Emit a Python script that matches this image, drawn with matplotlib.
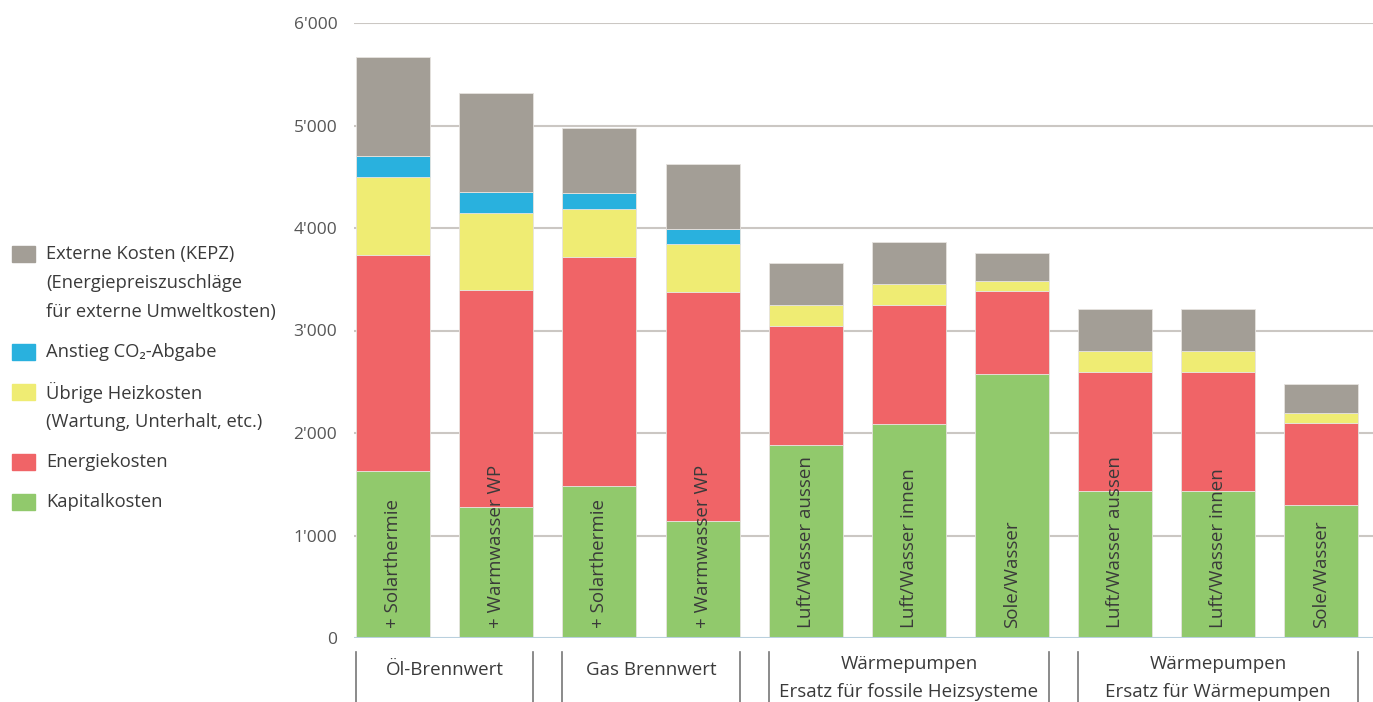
import matplotlib
matplotlib.use("Agg")
import matplotlib.pyplot as plt
from matplotlib.patches import Rectangle
from matplotlib.transforms import blended_transform_factory
import numpy as np

plt.rcParams['font.family'] = ['Open Sans', 'DejaVu Sans']

# ---- data ----
bar_labels = ["+ Solarthermie", "+ Warmwasser WP", "+ Solarthermie", "+ Warmwasser WP",
              "Luft/Wasser aussen", "Luft/Wasser innen", "Sole/Wasser",
              "Luft/Wasser aussen", "Luft/Wasser innen", "Sole/Wasser"]
kapital = [1630, 1280, 1480, 1140, 1880, 2090, 2580, 1430, 1430, 1300]
energie = [2110, 2120, 2240, 2240, 1160, 1160, 810, 1170, 1170, 800]
uebrige = [760, 750, 470, 460, 210, 200, 90, 200, 200, 100]
co2 = [200, 200, 150, 150, 0, 0, 0, 0, 0, 0]
extern = [970, 970, 635, 635, 410, 410, 280, 410, 410, 280]

groups = [["Öl-Brennwert"], ["Gas Brennwert"],
          ["Wärmepumpen", "Ersatz für fossile Heizsysteme"],
          ["Wärmepumpen", "Ersatz für Wärmepumpen"]]
group_ranges = [(0, 1), (2, 3), (4, 6), (7, 9)]

legend_lines = [
    ["Externe Kosten (KEPZ)", "(Energiepreiszuschläge", "für externe Umweltkosten)"],
    ["Anstieg CO₂-Abgabe"],
    ["Übrige Heizkosten", "(Wartung, Unterhalt, etc.)"],
    ["Energiekosten"],
    ["Kapitalkosten"],
]
colors = ["#91c96c", "#f06467", "#efec73", "#29b1de", "#a39e96"]
yticks = [0, 1000, 2000, 3000, 4000, 5000, 6000]
ytick_labels = ["0", "1'000", "2'000", "3'000", "4'000", "5'000", "6'000"]

# ---- figure ----
W, H = 1373, 702
fig = plt.figure(figsize=(W / 100, H / 100), dpi=100)
ax = fig.add_axes([354 / W, (H - 638) / H, 1 - 354 / W, (638 - 23) / H])

x = np.arange(len(bar_labels))
bw = 0.717
bottom = np.zeros(len(x))
for vals, col in zip([kapital, energie, uebrige, co2, extern], colors):
    vals = np.array(vals, dtype=float)
    ax.bar(x, vals, bw, bottom=bottom, color=col, edgecolor="#e6e3df",
           linewidth=0.6, zorder=3)
    bottom += vals

ax.set_xlim(-0.38, 9.5)
ax.set_ylim(0, 6000)
ax.set_yticks(yticks)
ax.set_yticklabels(ytick_labels, fontsize=12.5, color="#555555")
ax.tick_params(axis="y", length=0, pad=12)
ax.set_xticks([])
for s in ax.spines.values():
    s.set_visible(False)
for yv in yticks[1:]:
    ax.axhline(yv, color="#cbc7c3", lw=1.5, zorder=1)
ax.axhline(0, color="#b9d0de", lw=1.5, zorder=4)

# labels inside bars
for xi, lab in zip(x, bar_labels):
    ax.text(xi, 95, lab, rotation=90, ha="center", va="bottom",
            fontsize=13.5, color="#3a3a3a", zorder=5)

# group separators and labels
tr = blended_transform_factory(ax.transData, ax.transAxes)
ax_h = 638 - 23
for (a, b), g in zip(group_ranges, groups):
    left = a - bw / 2
    right = b + bw / 2
    for xe in (left, right):
        ax.plot([xe, xe], [-0.023, -0.11], color="#777777", lw=1.2,
                transform=tr, clip_on=False)
    ys = [670] if len(g) == 1 else [664, 692]
    for line, ypx in zip(g, ys):
        ax.text((left + right) / 2, (638 - ypx) / ax_h, line, transform=tr,
                ha="center", va="center", fontsize=13.5, color="#3a3a3a")

# legend (manual)
legend_colors = [colors[4], colors[3], colors[2], colors[1], colors[0]]
legend_y = [[254, 283, 312], [352], [392, 422], [462], [502]]
for col, lines, ys in zip(legend_colors, legend_lines, legend_y):
    fig.patches.append(Rectangle((12 / W, (H - ys[0] - 8) / H), 23 / W, 16 / H,
                                 transform=fig.transFigure, color=col))
    for line, ypx in zip(lines, ys):
        fig.text(46 / W, (H - ypx) / H, line, ha="left", va="center",
                 fontsize=13.2, color="#3a3a3a")

fig.savefig("out.png", dpi=100)
